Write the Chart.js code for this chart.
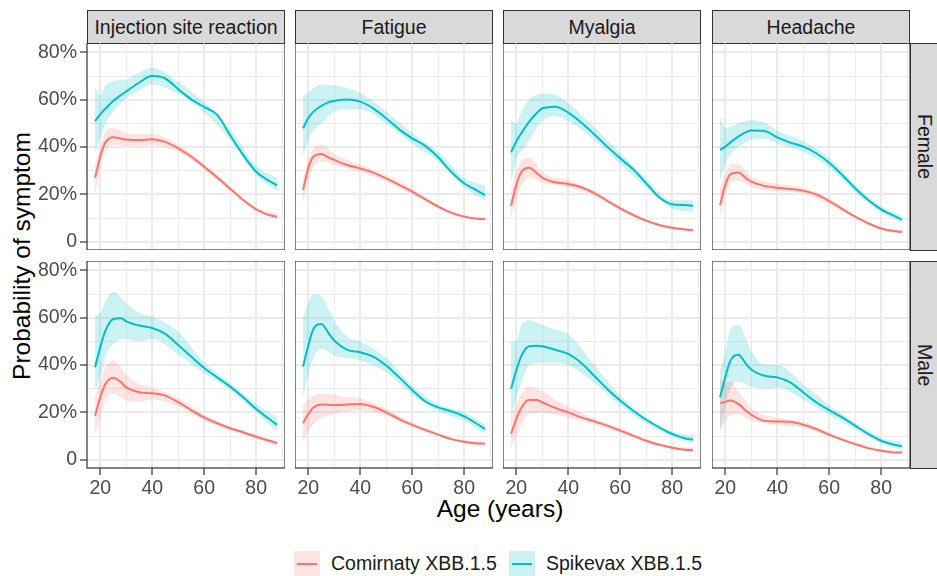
<!DOCTYPE html>
<html>
<head>
<meta charset="utf-8">
<script src="https://cdn.jsdelivr.net/npm/chart.js@4.4.0/dist/chart.umd.min.js"></script>
<style>
  body { margin: 0; background: #fff; font-family: "Liberation Sans", Arial, sans-serif; }
  #wrap { position: relative; width: 937px; height: 576px; overflow: hidden; }
  #wrap canvas { position: absolute; }
  .strip { position: absolute; box-sizing: border-box; background: #d9d9d9; border: 1px solid #333;
    color: #1a1a1a; font-size: 19.5px; display: flex; align-items: center; justify-content: center; white-space: nowrap; }
  .vstrip { writing-mode: vertical-rl; }
  .ytitle { position: absolute; left: 22px; top: 256px; font-size: 24.5px; color: #000;
    transform: translate(-50%, -50%) rotate(-90deg); white-space: nowrap; }
  .xtitle { position: absolute; left: 500px; top: 509px; font-size: 24.5px; color: #000;
    transform: translate(-50%, -50%); white-space: nowrap; }
  .key { position: absolute; top: 551px; width: 26px; height: 25px; }
  .key span { position: absolute; left: 3px; right: 3px; top: 11.5px; height: 2px; }
  .lab { position: absolute; top: 551px; height: 25px; line-height: 25px; font-size: 19.5px; color: #1a1a1a; white-space: nowrap; }
</style>
</head>
<body>
<div id="wrap">
  <div class="ytitle">Probability of symptom</div>
  <div class="xtitle">Age (years)</div>
</div>
<script>
var AGES = [18, 20, 22, 25, 28, 30, 35, 40, 45, 50, 55, 60, 65, 70, 75, 80, 85, 88];
var BAND_AGES = [18, 20, 22, 25, 30, 35, 40, 50, 60, 70, 80, 88];
var SYMPTOMS = ["Injection site reaction", "Fatigue", "Myalgia", "Headache"];
var SEXES = ["Female", "Male"];
var VACCINES = ["Comirnaty XBB.1.5", "Spikevax XBB.1.5"];
var X_TICKS = [20, 30, 40, 50, 60, 70, 80, 90];
var Y_TICKS = [0, 10, 20, 30, 40, 50, 60, 70, 80];

// Female, injection site reaction
var F_INJ_COM = [27, 36, 42, 44.2, 43.6, 43.2, 43, 43.3, 42.2, 39.5, 36, 31.7, 27.2, 22.4, 17.6, 13.7, 11.3, 10.6];
var F_INJ_COM_LO = [20, 31, 38, 41, 40.5, 40.5, 41, 38, 30.5, 21.5, 13, 9.5];
var F_INJ_COM_HI = [33, 40, 46.5, 48, 46, 45.5, 45.5, 41, 33, 23.5, 14.5, 12];
var F_INJ_SPK = [51, 53.8, 56.3, 59.5, 62, 63.5, 67.3, 70, 69, 64.5, 60.2, 57, 53.6, 45, 36.7, 29.6, 25.7, 23.8];
var F_INJ_SPK_LO = [38, 44, 50, 55, 60.5, 64, 66.5, 62.5, 54.5, 43, 28, 21.5];
var F_INJ_SPK_HI = [65, 62, 66, 68, 68.5, 71.5, 73.5, 67.5, 59, 47.5, 32, 27];

// Female, fatigue
var F_FAT_COM = [21.9, 31, 36, 37.1, 35.5, 34.6, 32.4, 31, 29.2, 26.8, 24, 21.2, 18, 14.8, 12.3, 10.6, 9.7, 9.6];
var F_FAT_COM_LO = [16, 26, 31.5, 34, 32.5, 31, 29.5, 25.5, 20, 14, 10, 9];
var F_FAT_COM_HI = [27, 35, 39.5, 41, 37, 34.5, 32.5, 28, 22.5, 15.5, 11.2, 10.3];
var F_FAT_SPK = [48, 52.2, 55, 57.4, 59, 59.5, 60.1, 59.2, 56.4, 52.2, 47.5, 43.7, 40.5, 35.7, 29.6, 24.7, 21.6, 19.7];
var F_FAT_SPK_LO = [36.5, 43, 47, 50, 55, 56, 56, 50, 41.5, 34, 23, 17.5];
var F_FAT_SPK_HI = [61.5, 63, 65, 66.5, 66, 65, 63, 55, 46, 38, 27, 23.5];

// Female, myalgia
var F_MYA_COM = [15.2, 24, 29.6, 31.3, 28.9, 27.1, 25.1, 24.4, 23, 20.5, 17.3, 14.1, 11.3, 8.9, 7.1, 5.9, 5.2, 4.9];
var F_MYA_COM_LO = [10, 18, 24, 27, 25, 24, 23, 19.5, 13.3, 8.3, 5.4, 4.3];
var F_MYA_COM_HI = [21, 29, 34, 35.5, 29.5, 27, 26, 21.5, 15, 9.5, 6.4, 5.6];
var F_MYA_SPK = [37.8, 42.3, 46, 50.8, 54.5, 56.4, 57.1, 54.6, 50.4, 45.4, 40.2, 35.3, 30.6, 24.7, 18.8, 15.8, 15.5, 15.2];
var F_MYA_SPK_LO = [25, 35, 38, 43, 51, 53, 51, 43, 33, 23, 14, 12.5];
var F_MYA_SPK_HI = [51.5, 50, 55, 60, 62.5, 62, 58.5, 48.5, 37.5, 26.5, 17.5, 17.5];

// Female, headache
var F_HEA_COM = [15.5, 24, 28.6, 29.3, 26.8, 25.4, 23.6, 22.8, 22.3, 21.6, 20, 17.2, 13.8, 10.6, 7.8, 5.6, 4.5, 4.1];
var F_HEA_COM_LO = [10, 19, 24.5, 26, 23, 22, 21.3, 20.5, 16, 10, 5, 3.4];
var F_HEA_COM_HI = [23, 28, 32.5, 33, 27.5, 25.5, 24.5, 22.8, 18.5, 11.3, 6.2, 4.8];
var F_HEA_SPK = [38.8, 40.2, 42, 44.4, 46.3, 47, 46.8, 44.1, 41.9, 40.2, 37.4, 33.4, 28.2, 22.6, 17.6, 13.7, 10.9, 9.4];
var F_HEA_SPK_LO = [26, 33, 37, 40, 43, 43.5, 41.5, 38, 31.5, 21, 12.5, 8];
var F_HEA_SPK_HI = [52.5, 48, 48.5, 50, 51.5, 50.5, 47, 42.5, 35.5, 24, 15, 11];

// Male, injection site reaction
var M_INJ_COM = [18.6, 26.4, 32, 34.6, 32.7, 30.6, 28.5, 28.1, 27.1, 24.3, 21, 17.9, 15.4, 13.3, 11.6, 9.7, 8, 7.1];
var M_INJ_COM_LO = [10, 18, 25, 28, 25, 24.5, 25.5, 22.5, 16.5, 12.5, 9, 6];
var M_INJ_COM_HI = [27, 33, 39, 42, 36, 32, 30.5, 26, 19, 14.2, 10.5, 8];
var M_INJ_SPK = [39.1, 47.5, 54.6, 59.5, 59.8, 58.5, 56.7, 55.7, 53.2, 48.5, 43.6, 38.8, 34.8, 30.9, 26.4, 21.4, 17.2, 14.8];
var M_INJ_SPK_LO = [30, 34, 44, 49, 51, 50, 51, 44.5, 36.5, 29.5, 20, 12];
var M_INJ_SPK_HI = [61, 62, 67, 71, 66, 62, 60.5, 54, 41, 32.5, 23.5, 18];

// Male, fatigue
var M_FAT_COM = [15.4, 19.3, 22.1, 23.3, 23.2, 23.1, 23.3, 23.6, 22.4, 20, 17.2, 14.7, 12.6, 10.6, 8.7, 7.6, 6.9, 6.8];
var M_FAT_COM_LO = [7.5, 12, 15, 17.5, 19.5, 20.5, 21, 18.5, 13.7, 10, 7, 6];
var M_FAT_COM_HI = [23, 25.5, 27, 28, 27.5, 26.5, 26, 21.5, 15.7, 11.3, 8.2, 7.6];
var M_FAT_SPK = [39.4, 48.2, 55.3, 57.4, 53.2, 50.4, 46.4, 45.4, 43.6, 39.8, 34.8, 29.5, 24.7, 22.1, 20.5, 18.3, 15.1, 13];
var M_FAT_SPK_LO = [26.4, 36, 43, 47, 44, 43, 42, 37, 27.5, 20.5, 16.5, 11];
var M_FAT_SPK_HI = [60.2, 66, 70, 69, 59, 52, 50, 43, 31.5, 23.5, 20, 15];

// Male, myalgia
var M_MYA_COM = [10.9, 17.2, 22.1, 25.4, 25.2, 24.3, 21.9, 20, 17.9, 16.2, 14.4, 12.3, 10.2, 8, 6.3, 5.1, 4.2, 4.1];
var M_MYA_COM_LO = [5, 10, 15, 19.5, 20, 19, 18, 14.8, 11.4, 7.4, 4.6, 3.3];
var M_MYA_COM_HI = [17.5, 23, 28, 31, 29, 25.5, 22.5, 17.5, 13.3, 8.7, 5.7, 4.9];
var M_MYA_SPK = [29.9, 37.7, 44, 48, 48.2, 48, 46.5, 44.7, 40.9, 35.5, 29.9, 25, 20.7, 16.9, 13.7, 10.9, 9, 8.5];
var M_MYA_SPK_LO = [17.2, 26, 33, 40, 41, 41, 40, 32.5, 23, 15.5, 9.8, 7];
var M_MYA_SPK_HI = [50, 50, 57, 59, 57, 55, 53, 40, 27, 18, 12, 10];

// Male, headache
var M_HEA_COM = [23.8, 24.5, 25, 23.6, 20.7, 19, 16.5, 16.2, 16.1, 14.8, 13, 10.6, 8.5, 6.6, 4.9, 3.8, 3.1, 3];
var M_HEA_COM_LO = [12, 16, 19, 19, 16.5, 15.5, 14.8, 13.5, 9.8, 6, 3.2, 2.3];
var M_HEA_COM_HI = [34, 33, 33, 29, 22, 19, 17.7, 16, 11.5, 7.2, 4.4, 3.8];
var M_HEA_SPK = [26.4, 34.8, 41.9, 44.4, 40.5, 38.1, 35.5, 34.8, 32.7, 28.5, 24.3, 21, 17.9, 14.4, 10.9, 8, 6.3, 5.8];
var M_HEA_SPK_LO = [12, 22, 30, 33, 31, 30, 30.5, 25.5, 19, 13, 7, 4.3];
var M_HEA_SPK_HI = [38, 45, 55, 57, 46, 40, 40, 32, 23, 15.7, 9.2, 7.5];

var PANEL_DATA = [
  [
    [F_INJ_COM, F_INJ_COM_LO, F_INJ_COM_HI, F_INJ_SPK, F_INJ_SPK_LO, F_INJ_SPK_HI],
    [F_FAT_COM, F_FAT_COM_LO, F_FAT_COM_HI, F_FAT_SPK, F_FAT_SPK_LO, F_FAT_SPK_HI],
    [F_MYA_COM, F_MYA_COM_LO, F_MYA_COM_HI, F_MYA_SPK, F_MYA_SPK_LO, F_MYA_SPK_HI],
    [F_HEA_COM, F_HEA_COM_LO, F_HEA_COM_HI, F_HEA_SPK, F_HEA_SPK_LO, F_HEA_SPK_HI]
  ],
  [
    [M_INJ_COM, M_INJ_COM_LO, M_INJ_COM_HI, M_INJ_SPK, M_INJ_SPK_LO, M_INJ_SPK_HI],
    [M_FAT_COM, M_FAT_COM_LO, M_FAT_COM_HI, M_FAT_SPK, M_FAT_SPK_LO, M_FAT_SPK_HI],
    [M_MYA_COM, M_MYA_COM_LO, M_MYA_COM_HI, M_MYA_SPK, M_MYA_SPK_LO, M_MYA_SPK_HI],
    [M_HEA_COM, M_HEA_COM_LO, M_HEA_COM_HI, M_HEA_SPK, M_HEA_SPK_LO, M_HEA_SPK_HI]
  ]
];

var LINE_COLORS = ["#F8766D", "#00BFC4"];
var BAND_COLORS = ["rgba(248,118,109,0.2)", "rgba(0,191,196,0.2)"];
var FONT = "'Liberation Sans', Arial, sans-serif";

var COL_X = [87, 295, 503, 712];
var ROW_Y = [43, 261];
var PANEL_W = 198, PANEL_H = 207;
var LEFT_M = 50, BOTTOM_M = 32;
var XMIN = 14.9, XMAX = 91.1, YMIN = -3.5, YMAX = 84;
var LEGEND_X = [294, 509];

Chart.defaults.font.family = FONT;

var panelBorder = {
  id: "panelBorder",
  afterDraw: function(chart) {
    var a = chart.chartArea, ctx = chart.ctx;
    ctx.save();
    ctx.strokeStyle = "#333333";
    ctx.lineWidth = 1.2;
    ctx.strokeRect(a.left, a.top, a.right - a.left, a.bottom - a.top);
    ctx.restore();
  }
};

var pts = function(xs, ys) {
  return xs.map(function(x, i) { return { x: x, y: ys[i] }; });
};

var wrap = document.getElementById("wrap");

var addStrip = function(text, left, top, w, h, vertical) {
  var d = document.createElement("div");
  d.className = "strip" + (vertical ? " vstrip" : "");
  d.style.left = left + "px";
  d.style.top = top + "px";
  d.style.width = w + "px";
  d.style.height = h + "px";
  d.textContent = text;
  wrap.appendChild(d);
};

SYMPTOMS.forEach(function(s, c) { addStrip(s, COL_X[c], 10, PANEL_W, 34, false); });
SEXES.forEach(function(s, r) { addStrip(s, 910, ROW_Y[r], 28, PANEL_H + 1, true); });

var makePanel = function(r, c) {
  var d = PANEL_DATA[r][c];
  var showY = c === 0, showX = r === 1;
  var cv = document.createElement("canvas");
  var w = PANEL_W + (showY ? LEFT_M : 0);
  var h = PANEL_H + (showX ? BOTTOM_M : 0);
  cv.width = w; cv.height = h;
  cv.style.left = (COL_X[c] - (showY ? LEFT_M : 0)) + "px";
  cv.style.top = ROW_Y[r] + "px";
  wrap.appendChild(cv);

  var datasets = [];
  [0, 1].forEach(function(v) {
    datasets.push({
      label: VACCINES[v], data: pts(AGES, d[v * 3]), borderColor: LINE_COLORS[v],
      borderWidth: 2, pointRadius: 0, fill: false, cubicInterpolationMode: "monotone", order: 0
    });
  });
  [0, 1].forEach(function(v) {
    datasets.push({
      data: pts(BAND_AGES, d[v * 3 + 1]), borderColor: "transparent", borderWidth: 1,
      pointRadius: 0, fill: false, cubicInterpolationMode: "monotone", order: 1
    });
    datasets.push({
      data: pts(BAND_AGES, d[v * 3 + 2]), borderColor: "transparent", borderWidth: 1,
      backgroundColor: BAND_COLORS[v], pointRadius: 0, fill: "-1", cubicInterpolationMode: "monotone", order: 1
    });
  });

  var major = function(v) { return v % 20 === 0; };

  new Chart(cv.getContext("2d"), {
    type: "line",
    data: { datasets: datasets },
    plugins: [panelBorder],
    options: {
      responsive: false,
      animation: false,
      layout: { padding: 0 },
      plugins: { legend: { display: false }, tooltip: { enabled: false } },
      scales: {
        x: {
          type: "linear", min: XMIN, max: XMAX,
          afterBuildTicks: function(s) { s.ticks = X_TICKS.map(function(v) { return { value: v }; }); },
          afterFit: function(s) { s.height = showX ? BOTTOM_M : 0; s.paddingLeft = 0; s.paddingRight = 0; },
          border: { display: false },
          grid: {
            color: "#EBEBEB",
            lineWidth: function(ctx) { return ctx.tick && major(ctx.tick.value) ? 2 : 1; },
            drawTicks: showX, tickLength: 7,
            tickColor: function(ctx) { return ctx.tick && major(ctx.tick.value) ? "#333333" : "rgba(0,0,0,0)"; },
            tickWidth: 1.2
          },
          ticks: {
            display: showX, autoSkip: false, maxRotation: 0, padding: 2, color: "#4D4D4D",
            font: { size: 19.5 },
            callback: function(v) { return major(v) ? String(v) : ""; }
          }
        },
        y: {
          type: "linear", min: YMIN, max: YMAX,
          afterBuildTicks: function(s) { s.ticks = Y_TICKS.map(function(v) { return { value: v }; }); },
          afterFit: function(s) { s.width = showY ? LEFT_M : 0; s.paddingTop = 0; s.paddingBottom = 0; },
          border: { display: false },
          grid: {
            color: "#EBEBEB",
            lineWidth: function(ctx) { return ctx.tick && major(ctx.tick.value) ? 2 : 1; },
            drawTicks: showY, tickLength: 7,
            tickColor: function(ctx) { return ctx.tick && major(ctx.tick.value) ? "#333333" : "rgba(0,0,0,0)"; },
            tickWidth: 1.2
          },
          ticks: {
            display: showY, autoSkip: false, padding: 3, color: "#4D4D4D",
            font: { size: 19.5 },
            callback: function(v) { return major(v) ? (v === 0 ? "0" : v + "%") : ""; }
          }
        }
      }
    }
  });
};

for (var r = 0; r < 2; r++) {
  for (var c = 0; c < 4; c++) makePanel(r, c);
}

VACCINES.forEach(function(name, v) {
  wrap.insertAdjacentHTML("beforeend",
    '<div class="key" style="left:' + LEGEND_X[v] + 'px;background:' + BAND_COLORS[v] + '"><span style="background:' + LINE_COLORS[v] + '"></span></div>' +
    '<div class="lab" style="left:' + (LEGEND_X[v] + 37) + 'px">' + name + '</div>');
});
</script>
</body>
</html>
